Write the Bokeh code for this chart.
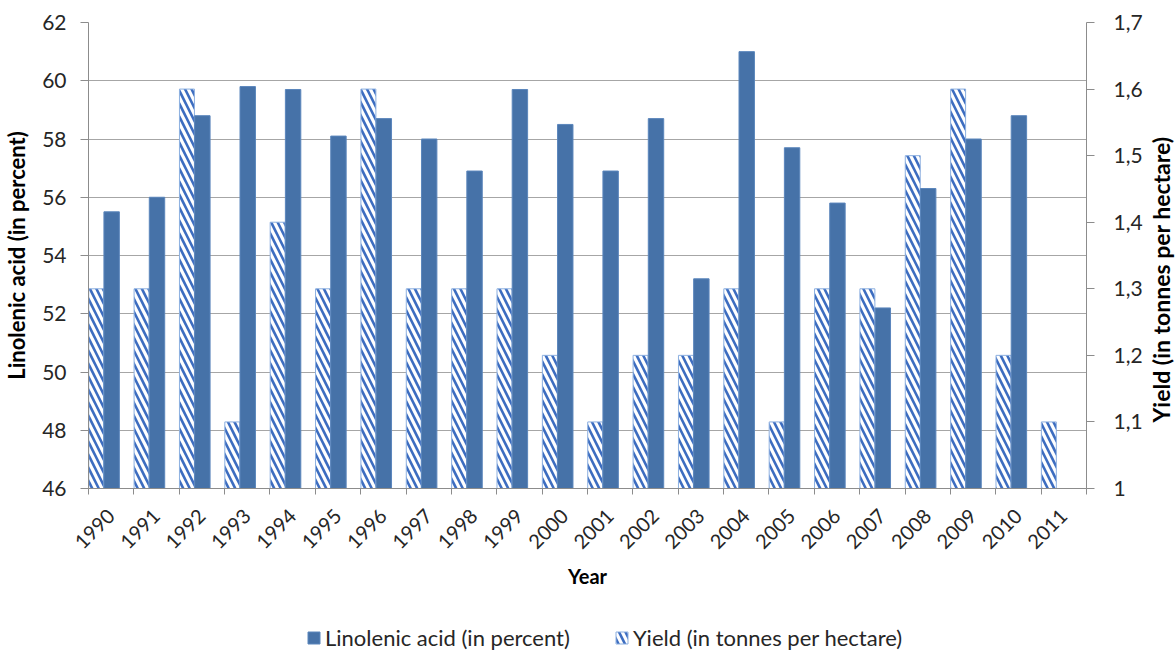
import math
from bokeh.plotting import figure
from bokeh.layouts import column, row
from bokeh.models import (Range1d, LinearAxis, FixedTicker, CustomJSTickFormatter,
                          Legend, LegendItem, ColumnDataSource)
from bokeh.core.properties import value
from bokeh.transform import dodge
from bokeh.embed import file_html
from bokeh.resources import INLINE

years = [str(y) for y in range(1990, 2012)]
linolenic = [55.5, 56.0, 58.8, 59.8, 59.7, 58.1, 58.7, 58.0, 56.9, 59.7, 58.5,
             56.9, 58.7, 53.2, 61.0, 57.7, 55.8, 52.2, 56.3, 58.0, 58.8, float("nan")]
yield_t = [1.3, 1.3, 1.6, 1.1, 1.4, 1.3, 1.6, 1.3, 1.3, 1.3, 1.2,
           1.1, 1.2, 1.2, 1.3, 1.1, 1.3, 1.3, 1.5, 1.6, 1.2, 1.1]
left_ticks = [46, 48, 50, 52, 54, 56, 58, 60, 62]
right_ticks = [1.0, 1.1, 1.2, 1.3, 1.4, 1.5, 1.6, 1.7]
left_title = "Linolenic acid (in percent)"
right_title = "Yield (in tonnes per hectare)"

FONT = "Lato"
GRAY = "#8C8C8C"
TXT = "#262626"
SOLID = dict(fill_color="#4672A8", line_color="#5B86BC", line_width=1)
HATCH = dict(fill_color="white", hatch_pattern="\\", hatch_color="#3D6DC0",
             hatch_scale=13, hatch_weight=2.6, line_color="#8DB0E0", line_width=1)

src = ColumnDataSource(dict(idx=list(range(len(years))), lin=linolenic, yld=yield_t))

p = figure(width=1145, height=600, x_range=Range1d(0, len(years)),
           y_range=Range1d(left_ticks[0], left_ticks[-1]),
           output_backend="svg", toolbar_location=None,
           min_border_left=87, min_border_right=59, min_border_top=22, min_border_bottom=112)
p.outline_line_color = None
p.background_fill_color = "white"
p.border_fill_color = "white"

p.extra_y_ranges = {"y2": Range1d(right_ticks[0], right_ticks[-1])}

# x axis
xa = p.xaxis[0]
xa.ticker = FixedTicker(ticks=[i + 0.5 for i in range(len(years))],
                        minor_ticks=list(range(len(years) + 1)))
xa.formatter = CustomJSTickFormatter(args=dict(years=years),
                                     code="return years[Math.floor(tick)];")
xa.major_label_orientation = math.pi / 4
xa.major_tick_in = 0
xa.major_tick_out = 0
xa.minor_tick_in = 0
xa.minor_tick_out = 6
xa.minor_tick_line_color = GRAY
xa.axis_line_color = GRAY
xa.major_label_text_font = FONT
xa.major_label_text_font_size = "20px"
xa.major_label_text_color = TXT
xa.major_label_standoff = 18
xa.axis_label = "Year"
xa.axis_label_text_font = FONT
xa.axis_label_text_font_style = "bold"
xa.axis_label_text_font_size = "20px"
xa.axis_label_text_color = "black"
xa.axis_label_standoff = 6

# left axis
ya = p.yaxis[0]
ya.ticker = FixedTicker(ticks=left_ticks)
ya.major_tick_in = 0
ya.major_tick_out = 8
ya.minor_tick_line_color = None
ya.major_tick_line_color = GRAY
ya.axis_line_color = GRAY
ya.major_label_text_font = FONT
ya.major_label_text_font_size = "21px"
ya.major_label_text_color = TXT
ya.major_label_standoff = 14
ya.axis_label = left_title
ya.axis_label_text_font = FONT
ya.axis_label_text_font_style = "bold"
ya.axis_label_text_font_size = "22px"
ya.axis_label_text_color = "black"
ya.axis_label_standoff = 9

# right axis (title drawn in a narrow strip so it reads bottom-to-top)
ra = LinearAxis(y_range_name="y2", ticker=FixedTicker(ticks=right_ticks),
                formatter=CustomJSTickFormatter(
                    code="var s = tick.toFixed(1).replace('.', ','); return s.endsWith(',0') ? s.slice(0, -2) : s;"))
ra.major_tick_in = 0
ra.major_tick_out = 8
ra.minor_tick_line_color = None
ra.major_tick_line_color = GRAY
ra.axis_line_color = GRAY
ra.major_label_text_font = FONT
ra.major_label_text_font_size = "21px"
ra.major_label_text_color = TXT
ra.major_label_standoff = 19
p.add_layout(ra, "right")

p.xgrid.visible = False
p.ygrid.ticker = FixedTicker(ticks=left_ticks)
p.ygrid.grid_line_color = "#A6A6A6"
p.ygrid.grid_line_width = 1

p.vbar(x=dodge("idx", 0.17, range=p.x_range), top="yld", bottom=right_ticks[0],
       width=0.33, source=src, y_range_name="y2", **HATCH)
p.vbar(x=dodge("idx", 0.51, range=p.x_range), top="lin", bottom=left_ticks[0],
       width=0.34, source=src, **SOLID)

# legend strip below the chart
leg = figure(width=1145, height=51, x_range=Range1d(0, 1), y_range=Range1d(0, 1),
             output_backend="svg", toolbar_location=None,
             x_axis_type=None, y_axis_type=None, min_border=0)
leg.outline_line_color = None
leg.grid.visible = False
offscreen = ColumnDataSource(dict(x=[-50], top=[-40]))
l_lin = leg.vbar(x="x", top="top", bottom=-50, width=0.1, source=offscreen, **SOLID)
l_yld = leg.vbar(x="x", top="top", bottom=-50, width=0.1, source=offscreen, **HATCH)
legend = Legend(items=[LegendItem(label="Linolenic acid (in percent)", renderers=[l_lin]),
                       LegendItem(label="Yield (in tonnes per hectare)", renderers=[l_yld])],
                orientation="horizontal", location=(218, 0),
                border_line_color=None, background_fill_alpha=0,
                padding=0, margin=0, spacing=44,
                glyph_width=15, glyph_height=15, label_standoff=4,
                label_text_font=FONT, label_text_font_size="22px", label_text_color=TXT)
leg.add_layout(legend, "center")

# right title strip
strip = figure(width=30, height=600, x_range=Range1d(0, 1), y_range=Range1d(0, 1),
               output_backend="svg", toolbar_location=None,
               x_axis_type=None, y_axis_type=None, min_border=0)
strip.outline_line_color = None
strip.grid.visible = False
strip.text(x=[0.5], y=[0.535], text=[right_title], angle=math.pi / 2,
           text_align="center", text_baseline="middle",
           text_font=value(FONT), text_font_style="bold", text_font_size="23px",
           text_color="black")

open("out.html", "w").write(file_html(row(column(p, leg, spacing=0), strip, spacing=0), INLINE))
